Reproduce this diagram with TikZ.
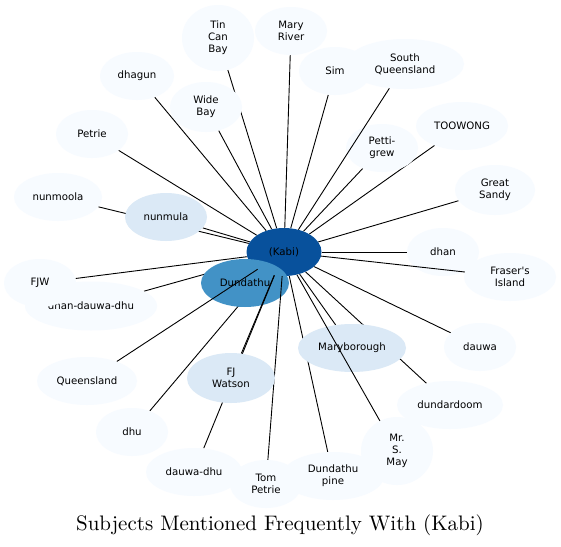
\documentclass[tikz,border=0pt]{standalone}
\usepackage{fontspec}
\newfontfamily\nodefont{DejaVu Sans}
\newfontfamily\titlefont{lmroman10-regular.otf}
\usetikzlibrary{shapes.geometric}
\pgfdeclarelayer{paper}
\pgfdeclarelayer{edgesunder}
\pgfdeclarelayer{centre}
\pgfdeclarelayer{edgesmid}
\pgfdeclarelayer{edgesover}
\pgfsetlayers{paper,edgesunder,centre,edgesmid,main,edgesover}
\definecolor{bDark}{HTML}{08519C}
\definecolor{bMid}{HTML}{4292C6}
\definecolor{bLight}{HTML}{DBE9F6}
\definecolor{bPale}{HTML}{F7FBFF}
\tikzset{
  nd/.style={ellipse, inner sep=0pt, draw=none, align=center,
    font=\nodefont\fontsize{10.2}{12}\selectfont, text=black},
  pale/.style={nd, fill=bPale},
  light/.style={nd, fill=bLight},
  edge/.style={draw=black, line width=0.9pt},
}
\begin{document}
\begin{tikzpicture}[x=1pt,y=-1pt]
\begin{pgfonlayer}{paper}
\fill[white] (0,0) rectangle (561,546);
\end{pgfonlayer}
\useasboundingbox (0,0) rectangle (561,546);
% centre nodes
\begin{pgfonlayer}{centre}
\node[nd, fill=bDark, minimum width=75pt, minimum height=48pt] (kabi) at (284,252) {(Kabi)};
\node[nd, fill=bMid, minimum width=88pt, minimum height=48pt] (dund) at (245,283) {Dundathu};
\end{pgfonlayer}
% other nodes
\node[pale, minimum width=72pt, minimum height=66pt] (tin) at (218,38) {Tin\\Can\\Bay};
\node[pale, minimum width=72pt, minimum height=48pt] (mary) at (291,31) {Mary\\River};
\node[pale, minimum width=74pt, minimum height=48pt] (dhagun) at (137,76) {dhagun};
\node[pale, minimum width=72pt, minimum height=50pt] (wide) at (206,107) {Wide\\Bay};
\node[pale, minimum width=72pt, minimum height=48pt] (sim) at (335,71) {Sim};
\node[pale, minimum width=118pt, minimum height=50pt] (sq) at (405,64) {South\\Queensland};
\node[pale, minimum width=72pt, minimum height=48pt] (petrie) at (92,134) {Petrie};
\node[pale, minimum width=72pt, minimum height=48pt] (petti) at (382,148) {Petti-\\grew};
\node[pale, minimum width=92pt, minimum height=48pt] (toow) at (462,126) {TOOWONG};
\node[pale, minimum width=80pt, minimum height=50pt] (great) at (495,190) {Great\\Sandy};
\node[pale, minimum width=88pt, minimum height=48pt] (nunmoola) at (58,197) {nunmoola};
\node[light, minimum width=82pt, minimum height=48pt] (nunmula) at (166,217) {nunmula};
\node[pale, minimum width=72pt, minimum height=48pt] (dhan) at (443,252) {dhan};
\node[pale, minimum width=92pt, minimum height=48pt] (fraser) at (510,277) {Fraser's\\Island};
\node[pale, minimum width=132pt, minimum height=49pt] (ddd) at (91,306) {dhan-dauwa-dhu};
\node[pale, minimum width=72pt, minimum height=48pt] (fjw) at (40,283) {FJW};
\node[pale, minimum width=100pt, minimum height=48pt] (queens) at (87,381) {Queensland};
\node[light, minimum width=88pt, minimum height=50pt] (fjwat) at (231,378) {FJ\\Watson};
\node[pale, minimum width=72pt, minimum height=48pt] (dhu) at (132,432) {dhu};
\node[pale, minimum width=96pt, minimum height=48pt] (dauwadhu) at (194,472) {dauwa-dhu};
\node[pale, minimum width=102pt, minimum height=48pt] (dpine) at (333,476) {Dundathu\\pine};
\node[pale, minimum width=72pt, minimum height=48pt] (tom) at (266,484) {Tom\\Petrie};
\node[pale, minimum width=72pt, minimum height=68pt] (may) at (397,451) {Mr.\\S.\\May};
\node[pale, minimum width=106pt, minimum height=48pt] (dundar) at (450,405) {dundardoom};
\node[pale, minimum width=72pt, minimum height=48pt] (dauwa) at (480,347) {dauwa};
\node[light, minimum width=108pt, minimum height=48pt] (maryb) at (352,348) {Maryborough};
% edges under the nodes
\begin{pgfonlayer}{edgesunder}
\foreach \t in {tin,mary,dhagun,wide,sim,petrie,petti,toow,great,nunmoola,nunmula,dhan,fjw,ddd,dhu,dpine,dundar,dauwa,maryb}
  \draw[edge] (kabi) -- (\t);
\end{pgfonlayer}
% edges over the Dundathu node
\begin{pgfonlayer}{edgesmid}
\foreach \t in {queens,fjwat,dauwadhu,tom}
  \draw[edge] (kabi) -- (\t);
\end{pgfonlayer}
% edges over everything
\begin{pgfonlayer}{edgesover}
\foreach \t in {sq,fraser,may}
  \draw[edge] (kabi) -- (\t);
\end{pgfonlayer}
% title
\node[anchor=base, inner sep=0pt, font=\titlefont\fontsize{21}{25}\selectfont] (title) at (280,530) {Subjects Mentioned Frequently With (Kabi)};
\end{tikzpicture}
\end{document}
